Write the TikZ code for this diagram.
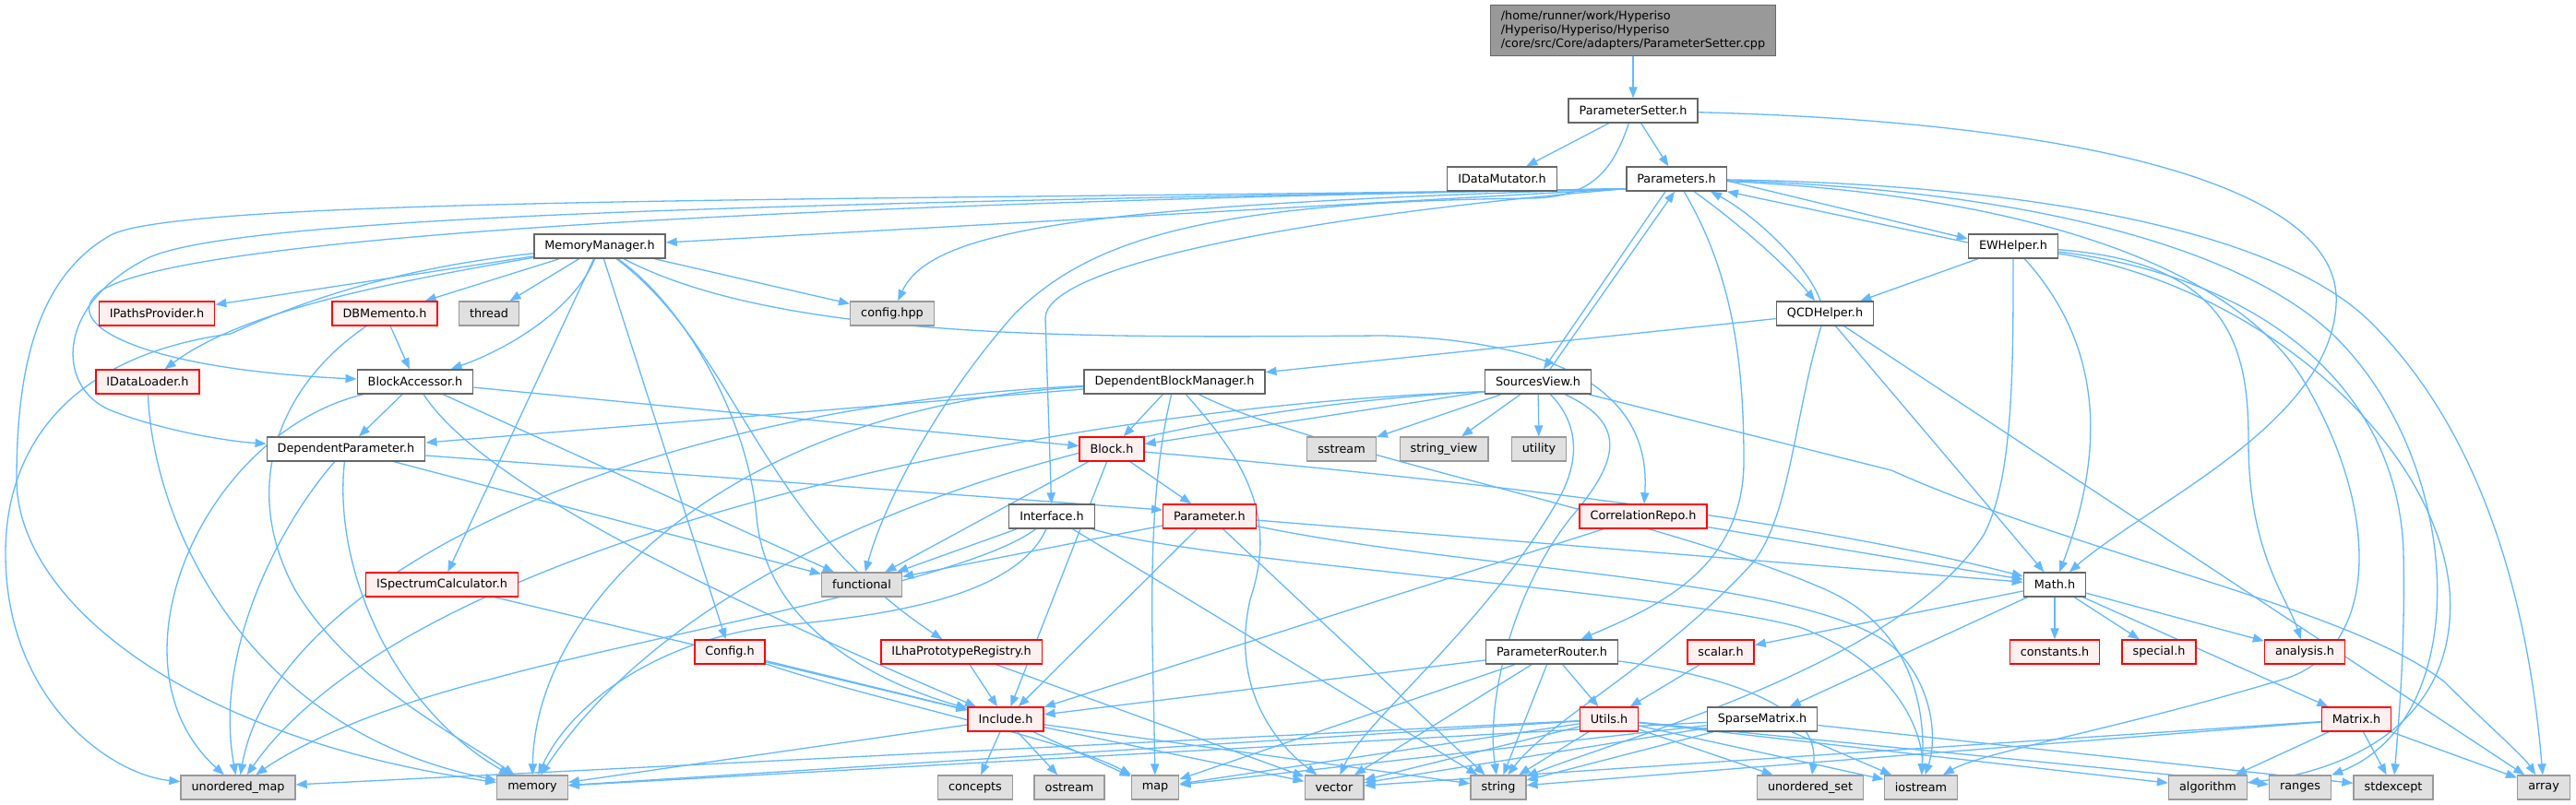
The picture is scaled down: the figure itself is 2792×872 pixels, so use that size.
\documentclass[tikz,border=0pt]{standalone}
\usepackage{fontspec}
\setmainfont{DejaVu Sans}
\usetikzlibrary{arrows.meta}
\pgfdeclarelayer{bg}
\pgfsetlayers{bg,main}
\definecolor{edgec}{HTML}{63B8FF}
\definecolor{wborder}{HTML}{666666}
\definecolor{rborder}{HTML}{FF0000}
\definecolor{rfill}{HTML}{FFF0F0}
\definecolor{gborder}{HTML}{999999}
\definecolor{gfill}{HTML}{E0E0E0}
\definecolor{tfill}{HTML}{999999}
\tikzset{
  base/.style={draw, font=\fontsize{6.4pt}{7.5pt}\selectfont, minimum height=13pt, inner xsep=5.75pt, inner ysep=0pt, line width=0.7pt},
  wnode/.style={base, draw=wborder, fill=white},
  rnode/.style={base, draw=rborder, fill=rfill},
  gnode/.style={base, draw=gborder, fill=gfill},
  topn/.style={base, draw=wborder, fill=tfill, align=left, minimum height=27.5pt},
  dep/.style={draw=edgec, line width=0.65pt, -{Triangle[length=6pt,width=4.6pt]}}
}
\begin{document}
\begin{tikzpicture}[x=0.5pt,y=-0.5pt]
\useasboundingbox (0,0) rectangle (2792,872);
% nodes
\node[topn] (top) at (1770,33) {/home/runner/work/Hyperiso\\/Hyperiso/Hyperiso/Hyperiso\\/core/src/Core/adapters/ParameterSetter.cpp};
\node[wnode] (PSh) at (1770,120) {ParameterSetter.h};
\node[wnode] (IDM) at (1628,194) {IDataMutator.h};
\node[wnode] (Pms) at (1817,194) {Parameters.h};
\node[wnode] (MM) at (650,267) {MemoryManager.h};
\node[wnode] (EW) at (2182,267) {EWHelper.h};
\node[rnode] (IPP) at (170,340) {IPathsProvider.h};
\node[rnode] (DBM) at (417,340) {DBMemento.h};
\node[gnode] (thr) at (530,340) {thread};
\node[gnode] (cfg) at (967,340) {config.hpp};
\node[wnode] (QCD) at (1978,340) {QCDHelper.h};
\node[rnode] (IDL) at (160,414) {IDataLoader.h};
\node[wnode] (BA) at (450,414) {BlockAccessor.h};
\node[wnode] (DBMgr) at (1273,414) {DependentBlockManager.h};
\node[wnode] (SV) at (1667,414) {SourcesView.h};
\node[wnode] (DP) at (375,487) {DependentParameter.h};
\node[rnode] (Blk) at (1205,487) {Block.h};
\node[gnode] (sst) at (1454,487) {sstream};
\node[gnode] (svw) at (1565,487) {string\_view};
\node[gnode] (util) at (1668,487) {utility};
\node[wnode] (If) at (1140,560) {Interface.h};
\node[rnode] (Par) at (1311,560) {Parameter.h};
\node[rnode] (CR) at (1781,560) {CorrelationRepo.h};
\node[rnode] (ISC) at (479,634) {ISpectrumCalculator.h};
\node[gnode] (fn) at (934,634) {functional};
\node[wnode] (Math) at (2227,634) {Math.h};
\node[rnode] (Cfgh) at (791,707) {Config.h};
\node[rnode] (ILR) at (1042,707) {ILhaPrototypeRegistry.h};
\node[wnode] (PR) at (1682,707) {ParameterRouter.h};
\node[rnode] (sc) at (1865,707) {scalar.h};
\node[rnode] (cst) at (2227,707) {constants.h};
\node[rnode] (spc) at (2340,707) {special.h};
\node[rnode] (ana) at (2498,707) {analysis.h};
\node[rnode] (Inc) at (1090,780) {Include.h};
\node[rnode] (Ut) at (1744,780) {Utils.h};
\node[wnode] (SM) at (1910,780) {SparseMatrix.h};
\node[rnode] (Mx) at (2554,780) {Matrix.h};
\node[gnode] (umap) at (258,854) {unordered\_map};
\node[gnode] (mem) at (577,854) {memory};
\node[gnode] (conc) at (1057,854) {concepts};
\node[gnode] (ost) at (1159,854) {ostream};
\node[gnode] (mapn) at (1252,854) {map};
\node[gnode] (vec) at (1446,854) {vector};
\node[gnode] (str) at (1624,854) {string};
\node[gnode] (uset) at (1962,854) {unordered\_set};
\node[gnode] (ios) at (2082,854) {iostream};
\node[gnode] (alg) at (2393,854) {algorithm};
\node[gnode] (rng) at (2493,854) {ranges};
\node[gnode] (stdx) at (2594,854) {stdexcept};
\node[gnode] (arr) at (2757,854) {array};
\coordinate (PmsL) at ([yshift=1.5pt]Pms.south west);
\coordinate (SVL) at ([yshift=1.5pt]SV.south west);
% edges
\begin{pgfonlayer}{bg}
\fill[white] (0,0) rectangle (2792,872);
\draw[dep] (top) -- (PSh);
\draw[dep] (PSh) -- (IDM);
\draw[dep] (PSh) -- (Pms);
\draw[dep] (PSh) .. controls (2250,132) and (2540,200) .. (2532,330) .. controls (2525,460) and (2330,545) .. (Math);
\draw[dep] (PSh) .. controls (1748,185) and (1725,214) .. (1660,215) .. controls (1300,219) and (1180,262) .. (1100,340) .. controls (1020,430) and (960,540) .. (fn);
% Parameters.h
\draw[dep] (PmsL) -- (MM);
\draw[dep] (PmsL) .. controls (1000,218) and (200,212) .. (120,255) .. controls (40,300) and (18,400) .. (18,520) .. controls (18,650) and (200,800) .. (mem);
\draw[dep] (PmsL) .. controls (900,220) and (260,232) .. (160,280) .. controls (60,330) and (60,420) .. (120,445) .. controls (170,465) and (240,478) .. (DP);
\draw[dep] (PmsL) .. controls (800,222) and (200,258) .. (110,315) .. controls (60,350) and (150,400) .. (BA);
\draw[dep] (PmsL) .. controls (1200,222) and (1010,245) .. (cfg);
\draw[dep] (PmsL) .. controls (1400,235) and (1133,290) .. (1133,345) -- (If);
\draw[dep] (Pms) .. controls (1880,300) and (1890,400) .. (1890,500) .. controls (1890,620) and (1790,660) .. (PR);
\draw[dep] ([xshift=-6pt]Pms.south) -- ([xshift=3pt]SV.north);
\draw[dep] ([xshift=6.5pt]SV.north) -- ([xshift=-1pt]Pms.south);
\draw[dep] ([yshift=-1pt]Pms.east) -- ([yshift=4pt]EW.west);
\draw[dep] ([yshift=2pt]EW.west) -- (Pms.south east);
\draw[dep] (Pms) .. controls (1870,232) and (1930,280) .. (QCD);
\draw[dep] (QCD) .. controls (1958,285) and (1900,232) .. ([xshift=-9pt]Pms.south east);
\draw[dep] (Pms) .. controls (2200,200) and (2470,250) .. (2570,350) .. controls (2690,470) and (2740,650) .. (arr);
\draw[dep] (Pms) .. controls (2200,206) and (2450,270) .. (2545,380) .. controls (2670,520) and (2680,780) .. (rng);
\draw[dep] (Pms) .. controls (2200,212) and (2420,290) .. (2495,410) .. controls (2580,550) and (2580,700) .. (2480,735) .. controls (2300,790) and (2150,815) .. (ios);
% EWHelper.h
\draw[dep] (EW) -- (QCD);
\draw[dep] (EW) .. controls (2275,370) and (2285,480) .. (Math);
\draw[dep] (EW) .. controls (2182,400) and (2182,520) .. (2150,580) .. controls (2060,720) and (1760,800) .. (str);
\draw[dep] (EW) .. controls (2420,285) and (2437,380) .. (2437,480) .. controls (2437,600) and (2480,650) .. (ana);
\draw[dep] (EW) .. controls (2450,300) and (2600,420) .. (2605,600) .. controls (2607,700) and (2600,780) .. (stdx);
\draw[dep] (EW) .. controls (2450,310) and (2640,480) .. (2655,640) .. controls (2665,780) and (2550,835) .. (alg);
% QCDHelper.h
\draw[dep] (QCD) -- (DBMgr);
\draw[dep] (QCD) -- (Math);
\draw[dep] (QCD) .. controls (1945,450) and (1940,560) .. (1900,610) .. controls (1800,720) and (1680,780) .. (str);
\draw[dep] (QCD) -- (arr);
% SourcesView.h
\draw[dep] (SVL) -- (Blk);
\draw[dep] (SV) -- (sst);
\draw[dep] (SV) -- (svw);
\draw[dep] (SV) -- (util);
\draw[dep] (SV) .. controls (1712,460) and (1712,500) .. (1690,540) .. controls (1610,680) and (1480,780) .. (vec);
\draw[dep] (SV) .. controls (1765,460) and (1755,500) .. (1702,562) .. controls (1640,640) and (1610,760) .. (str);
\draw[dep] (SV) -- (2050,510) .. controls (2250,600) and (2550,660) .. (2650,740) .. controls (2700,790) and (2735,820) .. (arr);
\draw[dep] (SVL) .. controls (1200,445) and (760,580) .. (mem);
\draw[dep] (SVL) .. controls (1150,440) and (450,580) .. (umap);
% DependentBlockManager.h
\draw[dep] (DBMgr) -- (DP);
\draw[dep] (DBMgr) -- (Blk);
\draw[dep] (DBMgr) .. controls (800,440) and (580,650) .. (mem);
\draw[dep] (DBMgr) .. controls (700,440) and (300,620) .. (umap);
\draw[dep] (DBMgr) .. controls (1240,550) and (1250,700) .. (mapn);
\draw[dep] (DBMgr) .. controls (1350,500) and (1385,560) .. (1355,650) .. controls (1330,760) and (1400,820) .. (vec);
\draw[dep] (DBMgr) .. controls (1420,490) and (1800,560) .. (1980,640) .. controls (2090,690) and (2085,800) .. (ios);
% BlockAccessor.h
\draw[dep] (BA) -- (DP);
\draw[dep] (BA) -- (Blk);
\draw[dep] (BA) -- (fn);
\draw[dep] (BA) .. controls (520,520) and (740,630) .. (Inc);
\draw[dep] (BA) .. controls (220,470) and (110,720) .. (umap);
% DependentParameter.h
\draw[dep] ([yshift=-3.5pt]DP.east) -- ([yshift=3.5pt]Par.west);
\draw[dep] (DP) -- (fn);
\draw[dep] (DP) .. controls (360,620) and (430,770) .. (mem);
\draw[dep] (DP) .. controls (310,560) and (230,700) .. (umap);
% MemoryManager.h
\draw[dep] (MM) -- (IPP);
\draw[dep] (MM) -- (DBM);
\draw[dep] (MM) -- (thr);
\draw[dep] (MM) -- (cfg);
\draw[dep] (MM) .. controls (400,310) and (260,340) .. (IDL);
\draw[dep] (MM) .. controls (625,330) and (560,375) .. (BA);
\draw[dep] (MM) -- (ISC);
\draw[dep] (MM) -- (Cfgh);
\draw[dep] (MM) .. controls (800,380) and (820,560) .. (ILR);
\draw[dep] (MM) .. controls (740,330) and (810,450) .. (820,560) .. controls (830,680) and (950,740) .. (Inc);
\draw[dep] (MM) .. controls (850,372) and (1200,366) .. (1500,364) .. controls (1700,370) and (1790,430) .. (CR);
\draw[dep] (MM) .. controls (420,292) and (320,330) .. (250,362) .. controls (80,385) and (6,480) .. (6,600) .. controls (6,760) and (120,840) .. (umap);
% DBMemento.h, IDataLoader.h
\draw[dep] (DBM) -- (BA);
\draw[dep] (DBM) .. controls (300,420) and (260,530) .. (320,640) .. controls (380,740) and (500,800) .. (mem);
\draw[dep] (IDL) .. controls (165,560) and (260,790) .. (mem);
% ISpectrumCalculator.h, Config.h, ILhaPrototypeRegistry.h
\draw[dep] (ISC) -- (Inc);
\draw[dep] (Cfgh) -- (Inc);
\draw[dep] (Cfgh) .. controls (950,760) and (1150,800) .. (mapn);
\draw[dep] (ILR) -- (Inc);
\draw[dep] (ILR) -- (vec);
% Block.h
\draw[dep] (Blk) -- (fn);
\draw[dep] (Blk) -- (Inc);
\draw[dep] (Blk) -- (Par);
\draw[dep] (Blk) .. controls (1700,530) and (2000,575) .. (Math);
% Interface.h
\draw[dep] (If) -- (fn);
\draw[dep] (If) .. controls (1050,630) and (700,690) .. (534,736) .. controls (400,770) and (320,810) .. (umap);
\draw[dep] (If) .. controls (1100,650) and (950,668) .. (850,678) .. controls (720,690) and (620,760) .. (mem);
\draw[dep] (If) -- (str);
\draw[dep] (If) .. controls (1300,610) and (1800,640) .. (1950,680) .. controls (2060,720) and (2085,800) .. (ios);
% Parameter.h
\draw[dep] (Par) -- (fn);
\draw[dep] (Par) -- (Inc);
\draw[dep] (Par) -- (str);
\draw[dep] (Par) -- (Math);
\draw[dep] (Par) .. controls (1600,620) and (1950,625) .. (2050,700) .. controls (2095,740) and (2100,800) .. (ios);
% CorrelationRepo.h
\draw[dep] (CR) -- (Inc);
\draw[dep] (CR) -- (Math);
% ParameterRouter.h
\draw[dep] (PR) -- (Inc);
\draw[dep] (PR) -- (mapn);
\draw[dep] (PR) -- (vec);
\draw[dep] (PR) -- (str);
\draw[dep] (PR) -- (Ut);
\draw[dep] (PR) .. controls (1850,730) and (1975,760) .. (uset);
\draw[dep] (sc) -- (Ut);
% Utils.h
\draw[dep] (Ut) -- (umap);
\draw[dep] (Ut) -- (mem);
\draw[dep] (Ut) -- (mapn);
\draw[dep] (Ut) -- (vec);
\draw[dep] (Ut) -- (str);
\draw[dep] (Ut) -- (uset);
\draw[dep] (Ut) -- (ios);
\draw[dep] (Ut) -- (alg);
\draw[dep] (Ut) -- (rng);
% SparseMatrix.h
\draw[dep] (SM) -- (mem);
\draw[dep] (SM) -- (mapn);
\draw[dep] (SM) -- (vec);
\draw[dep] (SM) -- (str);
\draw[dep] (SM) -- (ios);
\draw[dep] (SM) -- (stdx);
% Matrix.h
\draw[dep] (Mx) -- (alg);
\draw[dep] (Mx) -- (stdx);
\draw[dep] (Mx) -- (arr);
\draw[dep] (Mx) -- (vec);
\draw[dep] (Mx) -- (str);
% Math.h
\draw[dep] (Math) -- (sc);
\draw[dep] (Math) -- (cst);
\draw[dep] (Math) -- (spc);
\draw[dep] (Math) -- (ana);
\draw[dep] (Math) -- (Mx);
\draw[dep] (Math) -- (SM);
% Include.h
\draw[dep] (Inc) -- (conc);
\draw[dep] (Inc) -- (ost);
\draw[dep] (Inc) -- (mapn);
\draw[dep] (Inc) -- (vec);
\draw[dep] (Inc) -- (str);
\draw[dep] (Inc) -- (mem);
\end{pgfonlayer}
\end{tikzpicture}
\end{document}
